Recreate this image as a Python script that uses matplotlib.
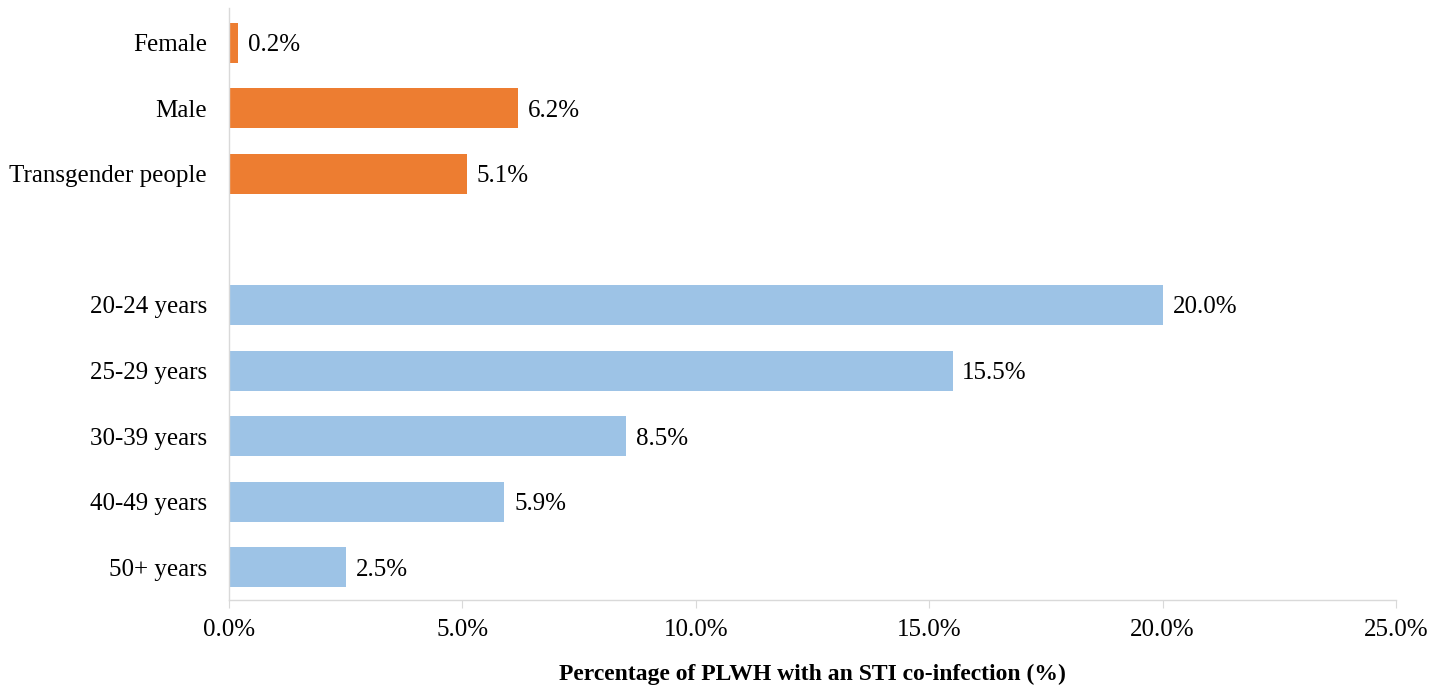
import matplotlib
matplotlib.use("Agg")
import matplotlib.pyplot as plt
from matplotlib.ticker import FuncFormatter

categories = ["Female", "Male", "Transgender people", "",
              "20-24 years", "25-29 years", "30-39 years", "40-49 years", "50+ years"]
values = [0.2, 6.2, 5.1, None, 20.0, 15.5, 8.5, 5.9, 2.5]
groups = ["sex", "sex", "sex", None, "age", "age", "age", "age", "age"]
xticks = [0, 5, 10, 15, 20, 25]
xlabel = "Percentage of PLWH with an STI co-infection (%)"

colors = {"sex": "#ED7D31", "age": "#9DC3E6"}

plt.rcParams["font.family"] = ["Liberation Serif", "DejaVu Serif"]

fig = plt.figure(figsize=(14.46, 6.88), dpi=100)
ax = fig.add_axes([229/1446, 88/688, (1396-229)/1446, 592/688])

for i, (v, g) in enumerate(zip(values, groups)):
    if v is None:
        continue
    ax.barh(i, v, height=0.61, color=colors[g])
    ax.text(v + 0.21, i, f"{v:.1f}%", va="center_baseline", ha="left", fontsize=18, color="#000000")

ax.set_ylim(8.5, -0.53)
ax.set_xlim(0, 25)
ax.set_yticks(range(len(categories)))
ax.set_yticklabels(categories, fontsize=18)
ax.tick_params(axis="y", length=0, pad=16)
ax.set_xticks(xticks)
ax.xaxis.set_major_formatter(FuncFormatter(lambda x, p: f"{x:.1f}%"))
ax.tick_params(axis="x", length=6, color="#D9D9D9", labelsize=18, pad=8)

for s in ["top", "right"]:
    ax.spines[s].set_visible(False)
for s in ["bottom", "left"]:
    ax.spines[s].set_color("#D9D9D9")
    ax.spines[s].set_linewidth(1)

ax.set_xlabel(xlabel, fontsize=17, fontweight="bold", labelpad=16)

fig.savefig("out.png", dpi=100)
